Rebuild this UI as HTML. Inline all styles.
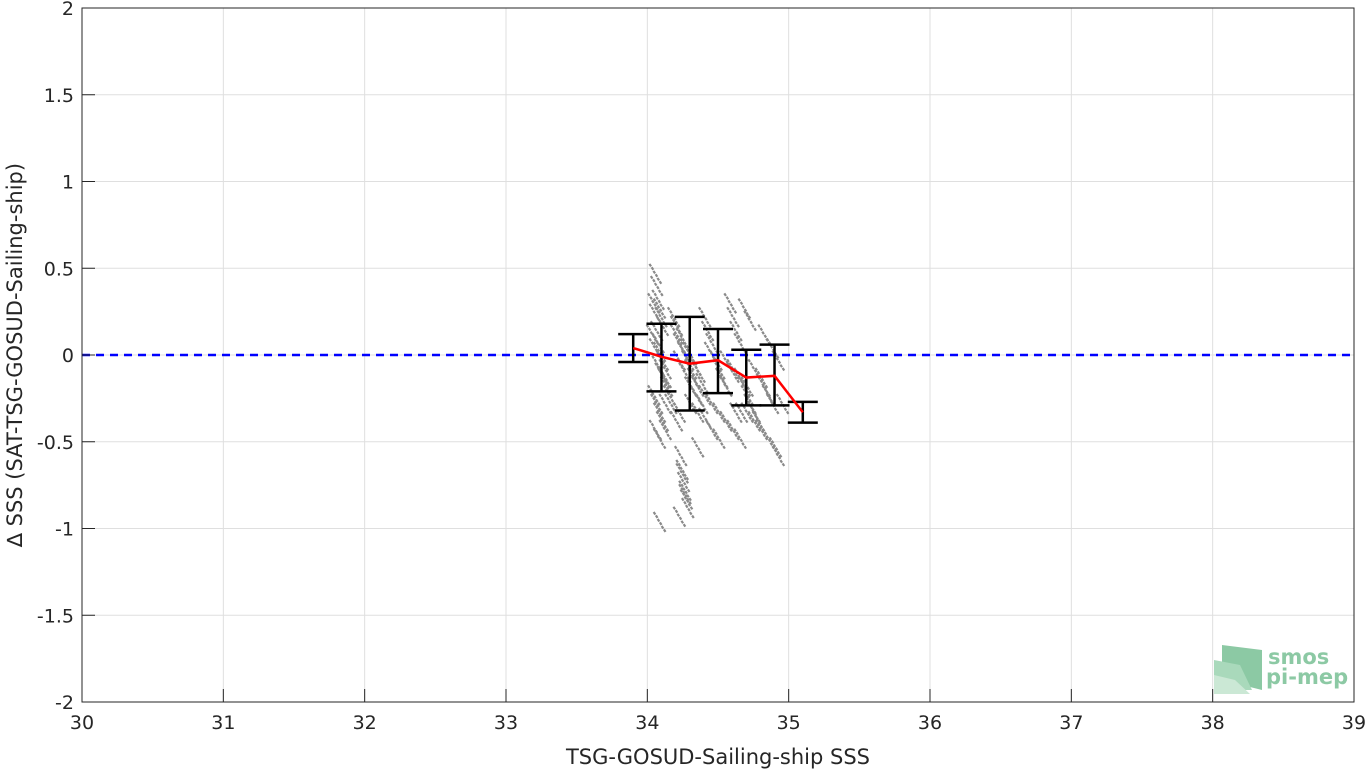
<!DOCTYPE html>
<html><head><meta charset="utf-8"><style>
body{margin:0;background:#fff;}
svg text{font-family:"DejaVu Sans","Liberation Sans",sans-serif;fill:#262626;}
</style></head><body>
<svg id="chart" width="1366" height="771" xmlns="http://www.w3.org/2000/svg">
<g id="grid"></g>
<g id="scatter"></g>
<line id="zero" stroke="#0000ff" stroke-width="2.5" stroke-dasharray="8,6"/>
<g id="bars"></g>
<polyline id="mean" fill="none" stroke="#ff0000" stroke-width="2.5"/>
<rect x="82" y="8" width="1272" height="694" fill="none" stroke="#262626" stroke-width="1"/>
<g id="ticks"></g>
<text x="718" y="764" text-anchor="middle" font-size="21">TSG-GOSUD-Sailing-ship SSS</text>
<text transform="translate(22,355) rotate(-90)" text-anchor="middle" font-size="21">∆ SSS (SAT-TSG-GOSUD-Sailing-ship)</text>
<g>
<polygon points="1222,645 1262,650 1262,690 1222,680" fill="#8cc9a4"/>
<polygon points="1214,660 1240,665 1252,690 1214,690" fill="#a9d9bb"/>
<polygon points="1214,675 1235,680 1250,694 1214,694" fill="#cbe8d5"/>
<text x="1268" y="664" font-size="21" font-weight="bold" style="fill:#8cc9a4">smos</text>
<text x="1266" y="684" font-size="21" font-weight="bold" style="fill:#8cc9a4">pi-mep</text>
</g>
</svg>
<script>
const xTicks=[30,31,32,33,34,35,36,37,38,39];
const yTicks=[-2,-1.5,-1,-0.5,0,0.5,1,1.5,2];
const binX=[33.9,34.1,34.3,34.5,34.7,34.9,35.1];
const binMean=[0.04,-0.01,-0.05,-0.03,-0.13,-0.12,-0.33];
const binUpper=[0.12,0.18,0.22,0.15,0.03,0.06,-0.27];
const binLower=[-0.04,-0.21,-0.32,-0.22,-0.29,-0.29,-0.39];
const ptX=[34.05,34.06,34.07,34.08,34.09,34.1,34.04,34.05,34.06,34.07,34.08,34.1,34.12,34.03,34.05,34.07,34.09,34.11,34.13,34.04,34.06,34.08,34.1,34.12,34.15,34.05,34.08,34.12,34.18,34.2,34.22,34.25,34.28,34.3,34.32,34.35,34.2,34.24,34.27,34.3,34.33,34.36,34.38,34.22,34.26,34.3,34.34,34.38,34.4,34.42,34.45,34.3,34.35,34.4,34.44,34.48,34.5,34.52,34.55,34.4,34.45,34.5,34.55,34.58,34.6,34.62,34.65,34.55,34.6,34.65,34.68,34.7,34.72,34.75,34.78,34.6,34.65,34.7,34.75,34.8,34.82,34.85,34.88,34.7,34.75,34.8,34.85,34.9,34.92,34.95,34.22,34.23,34.24,34.25,34.26,34.27,34.28,34.22,34.24,34.26,34.08,34.12,34.16,34.2,34.35,34.45,34.5,34.55,34.62,34.68,34.72,34.82,34.88,34.92,34.6,34.66];
const ptY=[0.45,0.38,0.3,0.25,0.2,0.15,0.28,0.22,0.12,0.05,0.0,-0.05,-0.1,0.1,0.02,-0.08,-0.12,-0.15,-0.2,-0.25,-0.3,-0.35,-0.4,-0.3,-0.25,-0.45,-0.5,-0.45,0.2,0.1,0.05,0.0,-0.05,-0.1,-0.15,-0.2,0.15,0.08,0.02,-0.02,-0.08,-0.12,-0.18,-0.05,-0.12,-0.2,-0.25,-0.3,0.2,0.12,0.05,-0.3,-0.35,-0.38,0.0,-0.05,-0.1,-0.15,-0.2,-0.25,-0.3,-0.35,-0.4,0.28,0.2,0.12,0.05,-0.05,-0.1,-0.15,-0.2,-0.25,-0.3,-0.35,-0.4,-0.45,-0.5,-0.2,-0.1,-0.15,-0.2,-0.25,-0.3,-0.35,-0.4,-0.45,-0.5,-0.55,-0.6,-0.3,-0.35,-0.6,-0.68,-0.75,-0.8,-0.85,-0.9,-0.95,-0.7,-0.82,-0.98,-0.15,-0.3,-0.4,-0.55,-0.45,-0.5,-0.4,-0.35,0.25,0.18,0.1,0.02,-0.05,-0.12,-0.35,-0.48];
const X0=82,X1=1354,Y0=702,Y1=8;
const sx=v=>X0+(v-30)/9*(X1-X0);
const sy=v=>Y0-(v+2)/4*(Y0-Y1);
const NS="http://www.w3.org/2000/svg";
function mk(tag,attrs,parent){const e=document.createElementNS(NS,tag);for(const k in attrs)e.setAttribute(k,attrs[k]);parent.appendChild(e);return e;}
const grid=document.getElementById('grid'),ticks=document.getElementById('ticks');
xTicks.forEach(t=>{const x=sx(t);
 const g=mk('line',{x1:x,x2:x,y1:Y1,y2:Y0,stroke:'#dfdfdf','stroke-width':1},grid);
 
 
 const tk=mk('line',{x1:x,x2:x,y1:Y0,y2:Y0-13,stroke:'#262626'},ticks);
 
 
 const tx=mk('text',{x:x,y:729,'text-anchor':'middle','font-size':19},ticks);tx.textContent=t;
 
 
});
yTicks.forEach(t=>{const y=sy(t);
 const g=mk('line',{x1:X0,x2:X1,y1:y,y2:y,stroke:'#dfdfdf','stroke-width':1},grid);
 
 
 const tk=mk('line',{x1:X0,x2:X0+13,y1:y,y2:y,stroke:'#262626'},ticks);
 
 
 const tx=mk('text',{x:74,y:y+7,'text-anchor':'end','font-size':19},ticks);tx.textContent=t;
 
 
});
const sc=document.getElementById('scatter');
ptX.forEach((v,i)=>{const x=sx(v),y=sy(ptY[i]);
 for(let k=-1;k<=1;k++){
 const d=mk('line',{x1:x-4+k*4+3,y1:y-6+k*7,x2:x+k*4+3,y2:y+k*7,stroke:'#8a8a8a','stroke-width':2.2,'stroke-dasharray':'3,1'},sc);
 
 }
});
const z=document.getElementById('zero');
z.setAttribute('x1',X0);z.setAttribute('x2',X1);z.setAttribute('y1',sy(0));z.setAttribute('y2',sy(0));
const bars=document.getElementById('bars');
binX.forEach((v,i)=>{const x=sx(v),yu=sy(binUpper[i]),yl=sy(binLower[i]);
 const a={stroke:'#000','stroke-width':2.5};
 const s=mk('line',Object.assign({x1:x,x2:x,y1:yu,y2:yl},a),bars);
 
 
 const c1=mk('line',Object.assign({x1:x-15,x2:x+15,y1:yu,y2:yu},a),bars);
 
 
 const c2=mk('line',Object.assign({x1:x-15,x2:x+15,y1:yl,y2:yl},a),bars);
 
 
});
document.getElementById('mean').setAttribute('points',binX.map((v,i)=>sx(v)+','+sy(binMean[i])).join(' '));
</script>
</body></html>
